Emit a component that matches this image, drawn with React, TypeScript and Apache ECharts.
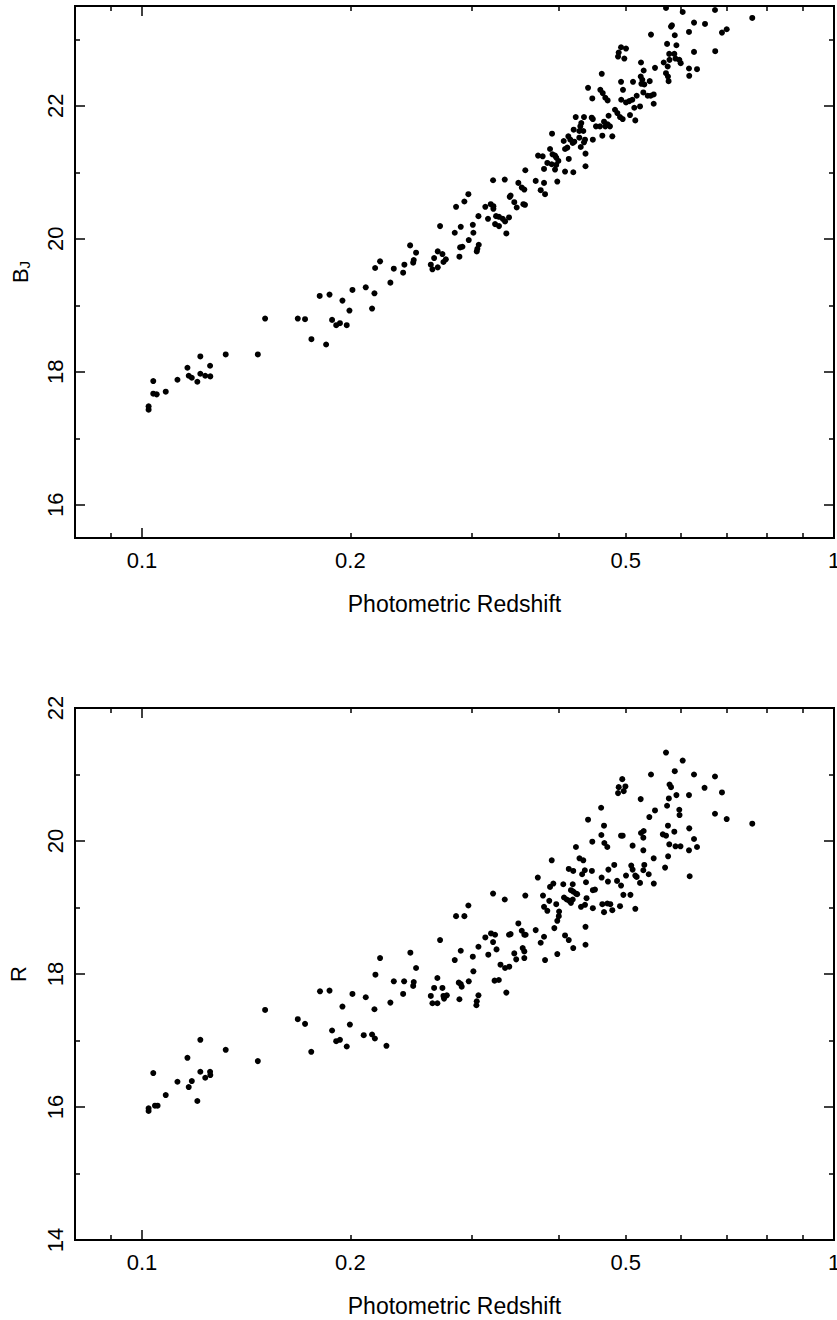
import React, { useEffect, useRef } from "react";
import * as echarts from "echarts";

// Photometric redshift vs B_J magnitude (top panel)
const bjPoints: [number, number][] = [
  [0.1022,17.48],[0.1022,17.43],[0.1038,17.86],[0.1038,17.67],[0.1050,17.66],[0.1082,17.70],[0.1125,17.88],[0.1163,18.06],[0.1168,17.94],[0.1180,17.91],[0.1202,17.85],[0.1214,18.23],[0.1214,17.97],[0.1234,17.94],[0.1255,17.93],[0.1254,18.09],[0.1321,18.26],[0.1470,18.26],[0.1506,18.80],[0.1679,18.80],[0.1720,18.79],[0.1757,18.49],[0.1806,19.14],[0.1845,18.41],[0.1866,19.16],[0.1882,18.78],[0.1908,18.70],[0.1932,18.73],[0.1948,19.07],[0.1976,18.70],[0.1994,18.92],
  [0.2014,19.23],[0.2105,19.27],[0.2167,19.18],[0.2150,18.95],[0.2172,19.56],[0.2208,19.66],[0.2285,19.34],[0.2311,19.55],[0.2384,19.49],[0.2394,19.61],[0.2440,19.90],[0.2465,19.64],[0.2470,19.68],[0.2489,19.79],
  [0.2614,19.61],[0.2628,19.54],[0.2643,19.71],[0.2675,19.81],[0.2675,19.57],[0.2717,19.77],[0.2726,19.65],[0.2748,19.69],[0.2696,20.19],[0.2831,20.09],[0.2843,20.48],[0.2875,19.73],[0.2882,19.87],[0.2904,19.88],[0.2888,20.18],[0.2923,20.56],[0.2962,20.67],[0.2966,19.98],
  [0.3006,20.21],[0.3012,20.09],[0.3046,19.81],[0.3052,19.85],[0.3066,19.91],[0.3063,20.34],[0.3134,20.48],[0.3162,20.30],[0.3191,20.52],[0.3219,20.49],[0.3219,20.45],[0.3216,20.88],[0.3248,20.34],[0.3280,20.33],[0.3237,20.22],[0.3280,20.19],[0.3321,20.30],[0.3347,20.26],[0.3391,20.32],[0.3361,20.08],[0.3343,20.89],[0.3399,20.63],[0.3409,20.65],[0.3451,20.55],[0.3479,20.47],[0.3498,20.84],[0.3538,20.77],[0.3568,20.74],[0.3557,20.52],[0.3576,20.51],[0.3580,21.03],[0.3706,20.87],[0.3735,21.25],[0.3793,21.24],[0.3768,20.73],[0.3810,21.05],[0.3810,20.84],[0.3823,20.67],
  [0.3852,21.14],[0.3887,21.35],[0.3913,21.58],[0.3919,21.27],[0.3952,21.25],[0.3968,21.22],[0.3996,21.17],[0.3968,21.11],[0.3952,21.04],[0.3909,21.12],[0.3982,20.86],[0.4086,21.01],[0.4200,21.00],[0.4068,21.47],[0.4086,21.35],[0.4117,21.37],[0.4131,21.54],[0.4158,21.49],[0.4192,21.44],[0.4214,21.46],[0.4137,21.20],[0.4205,21.64],[0.4285,21.62],[0.4342,21.62],[0.4234,21.83],[0.4352,21.83],[0.4465,21.82],[0.4482,21.80],[0.4313,21.74],[0.4299,21.69],[0.4285,21.52],[0.4367,21.49],[0.4352,21.45],[0.4305,21.38],[0.4374,21.28],[0.4374,21.09],[0.4411,22.27],[0.4474,22.11],[0.4529,21.69],[0.4590,21.69],[0.4652,21.76],[0.4672,21.69],[0.4708,21.72],[0.4745,21.69],[0.4626,21.55],[0.4782,21.54],[0.4482,21.49],[0.4617,22.48],[0.4595,22.24],[0.4632,22.19],[0.4672,22.12],[0.4708,22.08],[0.4723,21.85],[0.4825,21.94],[0.4863,21.89],[0.4906,21.83],[0.4950,21.80],
  [0.4885,22.80],[0.4874,22.74],[0.4923,22.88],[0.5005,22.86],[0.4977,22.71],[0.4923,22.36],[0.4955,22.24],[0.4926,22.09],[0.5005,22.05],[0.5060,22.07],[0.5111,22.09],[0.5072,21.86],[0.5162,21.78],[0.5123,22.36],[0.5186,22.15],[0.5145,21.97],[0.5244,21.99],[0.5261,22.65],[0.5256,22.44],[0.5284,22.39],[0.5268,22.33],[0.5319,22.32],[0.5308,22.53],[0.5302,22.20],[0.5380,22.15],[0.5434,22.15],[0.5488,22.17],[0.5488,22.03],[0.5416,22.37],[0.5439,23.07],[0.5512,22.57],
  [0.5718,23.47],[0.5814,23.19],[0.5832,23.21],[0.5674,22.65],[0.5750,22.59],[0.5738,22.93],[0.5717,22.49],[0.5755,22.44],[0.5767,22.37],[0.5779,22.78],[0.5878,22.78],[0.5785,22.69],[0.5901,22.71],[0.5976,22.69],[0.6004,22.64],[0.5887,23.06],[0.5919,22.91],[0.6044,23.41],[0.6172,23.11],[0.6276,23.25],[0.6276,22.81],[0.6172,22.56],[0.6339,22.55],[0.6177,22.45],[0.6510,23.23],[0.6730,23.44],[0.6735,22.82],[0.6888,23.10],[0.6997,23.15],[0.7619,23.32],
];

// Photometric redshift vs R magnitude (bottom panel)
const rPoints: [number, number][] = [
  [0.1022,15.98],[0.1022,15.94],[0.1038,16.51],[0.1044,16.02],[0.1053,16.02],[0.1082,16.18],[0.1125,16.38],[0.1163,16.74],[0.1168,16.30],[0.1180,16.39],[0.1202,16.09],[0.1214,17.01],[0.1214,16.53],[0.1234,16.44],[0.1255,16.48],[0.1254,16.53],[0.1321,16.86],[0.1470,16.69],[0.1506,17.46],
  [0.1679,17.32],[0.1720,17.25],[0.1756,16.83],[0.1808,17.74],[0.1866,17.75],[0.1882,17.15],[0.1908,16.99],[0.1932,17.01],[0.1948,17.51],[0.1976,16.91],[0.1997,17.24],[0.2014,17.70],[0.2091,17.08],[0.2105,17.65],[0.2150,17.09],[0.2170,17.03],[0.2167,17.47],[0.2174,17.99],[0.2208,18.24],[0.2255,16.92],[0.2285,17.57],[0.2311,17.89],[0.2384,17.70],[0.2392,17.89],[0.2442,18.32],[0.2465,17.82],[0.2470,17.88],[0.2489,18.09],
  [0.2614,17.67],[0.2628,17.56],[0.2672,17.56],[0.2643,17.79],[0.2672,17.94],[0.2717,17.79],[0.2732,17.63],[0.2757,17.68],[0.2726,17.67],[0.2696,18.51],[0.2831,18.21],[0.2843,18.87],[0.2923,18.87],[0.2875,17.62],[0.2869,17.87],[0.2888,17.85],[0.2897,17.81],[0.2888,18.35],[0.2962,19.03],[0.2966,17.89],[0.3006,18.26],[0.3012,18.04],[0.3042,17.53],[0.3046,17.59],[0.3063,17.68],[0.3063,18.41],[0.3134,18.55],[0.3165,18.29],[0.3194,18.61],[0.3237,18.59],[0.3216,18.48],[0.3216,19.21],[0.3253,18.37],[0.3232,17.90],[0.3278,17.91],[0.3296,18.14],[0.3347,18.09],[0.3394,18.11],[0.3361,17.72],[0.3343,19.12],[0.3391,18.59],[0.3409,18.60],[0.3451,18.31],[0.3473,18.22],[0.3498,18.76],[0.3538,18.65],[0.3568,18.59],[0.3584,18.59],[0.3549,18.39],[0.3568,18.34],[0.3568,18.24],[0.3580,19.18],[0.3706,18.66],[0.3732,19.45],[0.3768,18.47],[0.3797,19.18],[0.3810,19.01],[0.3810,18.56],[0.3823,18.21],
  [0.3909,19.71],[0.3930,19.36],[0.3887,19.31],[0.3877,19.10],[0.3852,18.95],[0.3968,19.05],[0.4006,18.94],[0.4002,18.87],[0.3982,18.80],[0.3943,18.69],[0.3982,18.30],[0.4086,18.58],[0.4137,18.51],[0.4199,18.39],[0.4374,18.44],[0.4374,18.71],[0.4062,19.35],[0.4192,19.35],[0.4381,19.38],[0.4167,19.26],[0.4199,19.24],[0.4237,19.21],[0.4254,19.20],[0.4514,19.27],[0.4482,19.26],[0.4072,19.15],[0.4109,19.12],[0.4145,19.10],[0.4192,19.12],[0.4167,19.07],[0.4389,19.14],[0.4309,19.01],[0.4367,19.04],[0.4482,18.99],[0.4626,19.05],[0.4703,19.06],[0.4750,19.05],[0.4652,18.93],[0.4782,18.96],[0.4906,19.02],[0.5162,18.98],[0.4961,19.19],[0.5079,19.19],[0.4713,19.39],[0.4858,19.40],[0.4923,19.33],[0.5244,19.37],[0.5490,19.36],[0.4137,19.58],[0.4199,19.55],[0.4364,19.56],[0.4325,19.50],[0.4468,19.55],[0.4342,19.71],[0.4287,19.74],[0.4237,19.91],[0.4474,19.99],[0.4411,20.32],[0.4607,20.50],[0.4652,20.23],[0.4611,20.09],[0.4657,19.97],[0.4703,19.91],[0.4615,19.45],[0.4720,19.57],[0.4813,19.64],
  [0.4943,20.93],[0.4885,20.81],[0.4995,20.82],[0.4967,20.75],[0.4874,20.72],[0.4923,20.08],[0.4950,20.08],[0.5005,19.48],[0.5093,19.63],[0.5116,19.57],[0.5116,19.93],[0.5162,19.48],[0.5186,19.46],[0.5256,20.63],[0.5261,20.12],[0.5308,20.15],[0.5302,20.05],[0.5302,19.86],[0.5319,19.64],[0.5302,19.56],[0.5398,19.50],[0.5409,20.36],[0.5439,21.00],[0.5512,20.46],[0.5488,19.74],[0.5657,20.10],[0.5718,20.08],[0.5700,19.60],[0.5758,19.77],[0.5755,20.23],[0.5718,21.33],[0.5738,20.53],[0.5772,20.64],[0.5785,20.85],[0.5814,20.81],[0.5780,19.95],[0.5878,20.14],[0.5887,21.05],[0.5901,19.92],[0.5919,20.69],[0.5976,20.47],[0.5981,20.39],[0.6000,19.92],[0.6044,21.21],[0.6172,20.69],[0.6177,20.19],[0.6172,19.86],[0.6186,19.47],[0.6276,21.00],[0.6276,20.03],[0.6339,19.91],[0.6500,20.80],[0.6730,20.97],[0.6730,20.41],[0.6888,20.73],[0.6997,20.33],[0.7619,20.26],
];

const xRange = [0.08, 1];
const xMajorTicks = [0.1, 1];
const xMinorTicks = [0.09, 0.2, 0.3, 0.4, 0.5, 0.6, 0.7, 0.8, 0.9];
const xTickLabels = [0.1, 0.2, 0.5, 1];
const xTitle = "Photometric Redshift";

const topYRange = [15.5, 23.5];
const topYMajor = [16, 18, 20, 22];
const topYMinor = [17, 19, 21, 23];

const botYRange = [14, 22];
const botYMajor = [14, 16, 18, 20, 22];
const botYMinor = [15, 17, 19, 21];

const FONT = "'Liberation Sans', Arial, Helvetica, sans-serif";
const BLACK = "#000";

const lg = (v: number) => Math.log10(v);

function xAxesFor(gridIndex: number) {
  const base = {
    type: "value",
    gridIndex,
    min: lg(xRange[0]),
    max: lg(xRange[1]),
    axisLine: { show: false, onZero: false },
    splitLine: { show: false },
  };
  const tick = (vals: number[], len: number) => ({
    show: true,
    inside: true,
    length: len,
    customValues: vals.map(lg),
    lineStyle: { color: BLACK, width: 1.5 },
  });
  return [
    {
      type: "log",
      logBase: 10,
      gridIndex,
      min: xRange[0],
      max: xRange[1],
      show: false,
      splitLine: { show: false },
    },
    {
      ...base,
      position: "bottom",
      axisTick: tick(xMajorTicks, 10),
      axisLabel: {
        show: true,
        customValues: xTickLabels.map(lg),
        formatter: (v: number) => String(Number(Math.pow(10, v).toPrecision(3))),
        color: BLACK,
        fontSize: 22,
        fontFamily: FONT,
        margin: 11,
      },
      name: xTitle,
      nameLocation: "middle",
      nameGap: 54,
      nameTextStyle: { color: BLACK, fontSize: 23, fontFamily: FONT },
    },
    { ...base, position: "bottom", axisTick: tick(xMinorTicks, 5), axisLabel: { show: false } },
    { ...base, position: "top", axisTick: tick(xMajorTicks, 10), axisLabel: { show: false } },
    { ...base, position: "top", axisTick: tick(xMinorTicks, 5), axisLabel: { show: false } },
  ];
}

function yAxesFor(
  gridIndex: number,
  range: number[],
  major: number[],
  minor: number[],
  name: string,
  nameGap: number,
  rich?: any
) {
  const base = {
    type: "value",
    gridIndex,
    min: range[0],
    max: range[1],
    axisLine: { show: false, onZero: false },
    splitLine: { show: false },
  };
  const tick = (vals: number[], len: number) => ({
    show: true,
    inside: true,
    length: len,
    customValues: vals,
    lineStyle: { color: BLACK, width: 1.5 },
  });
  return [
    {
      ...base,
      position: "left",
      axisTick: tick(major, 10),
      axisLabel: {
        show: true,
        customValues: major,
        rotate: 90,
        color: BLACK,
        fontSize: 22,
        fontFamily: FONT,
        margin: 9,
      },
      name,
      nameLocation: "middle",
      nameRotate: 90,
      nameGap,
      nameTextStyle: { color: BLACK, fontSize: 22, fontFamily: FONT, rich },
    },
    { ...base, position: "left", axisTick: tick(minor, 5), axisLabel: { show: false } },
    { ...base, position: "right", axisTick: tick(major, 10), axisLabel: { show: false } },
    { ...base, position: "right", axisTick: tick(minor, 5), axisLabel: { show: false } },
  ];
}

export default function App() {
  const ref = useRef<HTMLDivElement>(null);
  useEffect(() => {
    if (!ref.current) return;
    const chart = echarts.init(ref.current, undefined, { renderer: "svg" });
    const gridStyle = {
      show: true,
      borderColor: BLACK,
      borderWidth: 2,
      backgroundColor: "transparent",
      containLabel: false,
      outerBoundsMode: "none",
    };
    const bjRich = {
      b: { fontSize: 22, fontFamily: FONT, color: BLACK, padding: [0, 0, 8, 0] },
      s: { fontSize: 15, fontFamily: FONT, color: BLACK },
    };
    chart.setOption({
      animation: false,
      backgroundColor: "#fff",
      grid: [
        { ...gridStyle, left: 75, top: 6, width: 759, height: 532 },
        { ...gridStyle, left: 75, top: 708, width: 759, height: 532 },
      ],
      xAxis: [...xAxesFor(0), ...xAxesFor(1)],
      yAxis: [
        ...yAxesFor(0, topYRange, topYMajor, topYMinor, "{b|B}{s|J}", 36, bjRich),
        ...yAxesFor(1, botYRange, botYMajor, botYMinor, "R", 46),
      ],
      series: [
        {
          type: "scatter",
          xAxisIndex: 0,
          yAxisIndex: 0,
          symbol: "circle",
          symbolSize: 6,
          itemStyle: { color: BLACK, opacity: 1 },
          silent: true,
          data: bjPoints,
        },
        {
          type: "scatter",
          xAxisIndex: 5,
          yAxisIndex: 4,
          symbol: "circle",
          symbolSize: 6,
          itemStyle: { color: BLACK, opacity: 1 },
          silent: true,
          data: rPoints,
        },
      ],
    });
    return () => chart.dispose();
  }, []);
  return (
    <div
      ref={ref}
      style={{ position: "absolute", left: 0, top: 0, width: 837, height: 1320, background: "#fff" }}
    />
  );
}
